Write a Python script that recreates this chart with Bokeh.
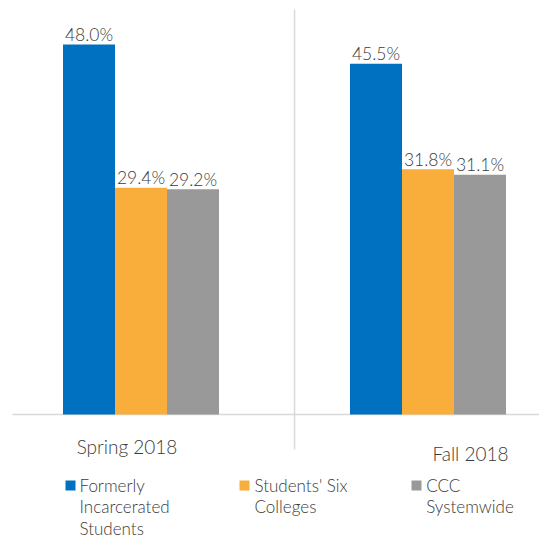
from bokeh.plotting import figure
from bokeh.models import Range1d
from bokeh.core.properties import value
from bokeh.embed import file_html
from bokeh.resources import INLINE

# ---- data ----
terms = ["Spring 2018", "Fall 2018"]
series_names = ["Formerly Incarcerated Students", "Students' Six Colleges", "CCC Systemwide"]
legend_lines = [["Formerly", "Incarcerated", "Students"],
                ["Students' Six", "Colleges"],
                ["CCC", "Systemwide"]]
formerly_incarcerated = [48.0, 45.5]
six_colleges = [29.4, 31.8]
ccc_systemwide = [29.2, 31.1]
colors = ["#0070C0", "#F9AE3B", "#999999"]

# ---- layout helpers (pixel -> data) ----
W, H = 539, 538
PX_PER_CAT = 287.0
PX_PER_PCT = 7.71
def xd(px):
    return 0.5 + (px - 140.5) / PX_PER_CAT
def yd(py):
    return (414.0 - py) / PX_PER_PCT

p = figure(width=W, height=H, output_backend="svg", toolbar_location=None,
           x_range=Range1d(xd(0), xd(W)), y_range=Range1d(yd(H), yd(0)),
           min_border=0, outline_line_color=None)
p.axis.visible = False
p.grid.visible = False
p.background_fill_color = "white"
p.border_fill_color = "white"

TEXT = "#3A3A3A"
FONT = value("Lato Light")

# separators
p.segment(x0=[xd(12)], y0=[0], x1=[xd(W)], y1=[0], line_color="#D9D9D9", line_width=1.5)
p.segment(x0=[1.035], y0=[yd(9)], x1=[1.035], y1=[yd(449)], line_color="#D9D9D9", line_width=1.5)

bw = 52.0 / PX_PER_CAT
offsets = [-bw, 0.0, bw]
all_series = [formerly_incarcerated, six_colleges, ccc_systemwide]
for vals, off, col in zip(all_series, offsets, colors):
    xs = [i + 0.5 + off for i in range(len(terms))]
    p.vbar(x=xs, top=vals, bottom=0, width=bw, fill_color=col, line_color=None)
    p.text(x=xs, y=[v + 10.3 / PX_PER_PCT for v in vals], text=[f"{v:.1f}%" for v in vals],
           text_align="center", text_baseline="middle", text_font=FONT,
           text_font_size="17.5px", text_color=TEXT)

# category labels
p.text(x=[xd(126.5), xd(470)], y=[yd(445.5), yd(453)], text=terms,
       text_align="center", text_baseline="middle", text_font=FONT,
       text_font_size="19px", text_color=TEXT)

# legend
sq_x = [70, 244, 416]
tx_x = [79, 254, 425.7]
for name, lines, col, sx, tx in zip(series_names, legend_lines, colors, sq_x, tx_x):
    p.rect(x=[xd(sx)], y=[yd(485)], width=10 / PX_PER_CAT, height=10 / PX_PER_PCT,
           fill_color=col, line_color=None)
    p.text(x=[xd(tx)] * len(lines), y=[yd(485 + 21.3 * k) for k in range(len(lines))],
           text=lines, text_align="left", text_baseline="middle", text_font=FONT,
           text_font_size="17px", text_color=TEXT)

open("out.html", "w").write(file_html(p, INLINE))
